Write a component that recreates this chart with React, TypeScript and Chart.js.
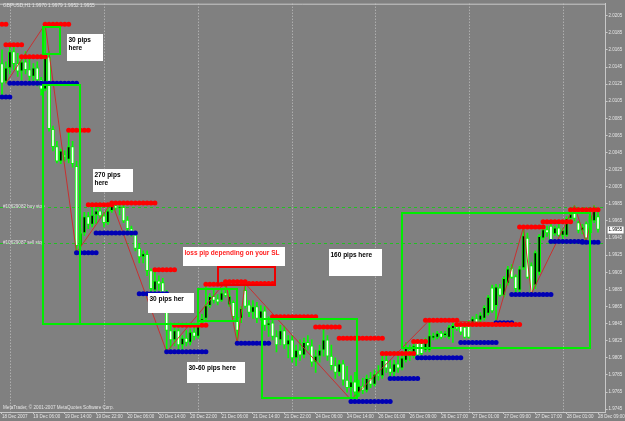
import React, { useEffect, useRef } from 'react';
import { Chart, registerables } from 'chart.js';

Chart.register(...registerables);

// ---------- data ----------
const symbol = 'GBPUSD,H1';

const opens = [
  2.0149, 2.0128, 2.0144, 2.0163, 2.0149, 2.0140, 2.0151, 2.0142, 2.0134, 2.0144,
  2.0130, 2.0119, 2.0157, 2.0072, 2.0052, 2.0035, 2.0042, 2.0037, 2.0052, 2.0029,
  1.9936, 1.9951, 1.9970, 1.9961, 1.9972, 1.9977, 1.9971, 1.9963, 1.9977, 1.9983,
  1.9980, 1.9981, 1.9966, 1.9956, 1.9949, 1.9933, 1.9923, 1.9926, 1.9907, 1.9884,
  1.9895, 1.9893, 1.9880, 1.9837, 1.9826, 1.9837, 1.9820, 1.9828, 1.9823, 1.9835,
  1.9830, 1.9846, 1.9851, 1.9866, 1.9877, 1.9874, 1.9872, 1.9881, 1.9867, 1.9870,
  1.9852, 1.9851, 1.9884, 1.9867, 1.9858, 1.9865, 1.9851, 1.9860, 1.9843, 1.9846,
  1.9830, 1.9826, 1.9837, 1.9820, 1.9826, 1.9805, 1.9814, 1.9808, 1.9823, 1.9819,
  1.9800, 1.9807, 1.9814, 1.9826, 1.9807, 1.9796, 1.9788, 1.9798, 1.9779, 1.9770,
  1.9777, 1.9765, 1.9772, 1.9767, 1.9781, 1.9774, 1.9786, 1.9784, 1.9802, 1.9793,
  1.9788, 1.9798, 1.9793, 1.9802, 1.9814, 1.9807, 1.9823, 1.9822, 1.9814, 1.9814,
  1.9828, 1.9829, 1.9834, 1.9831, 1.9829, 1.9839, 1.9841, 1.9843, 1.9841, 1.9845,
  1.9845, 1.9851, 1.9849, 1.9851, 1.9857, 1.9887, 1.9866, 1.9887, 1.9878, 1.9892,
  1.9910, 1.9900, 1.9884, 1.9910, 1.9945, 1.9913, 1.9890, 1.9905, 1.9945, 1.9955,
  1.9959, 1.9950, 1.9957, 1.9948, 1.9948, 1.9968, 1.9980, 1.9963, 1.9954, 1.9962,
  1.9951, 1.9965, 1.9970,
];
const highs = [
  2.0165, 2.0151, 2.0171, 2.0168, 2.0161, 2.0157, 2.0163, 2.0154, 2.0149, 2.0151,
  2.0133, 2.0195, 2.0163, 2.0076, 2.0058, 2.0049, 2.0047, 2.0071, 2.0058, 2.0035,
  1.9956, 1.9975, 1.9975, 1.9984, 1.9981, 1.9986, 1.9975, 1.9981, 1.9987, 1.9987,
  1.9985, 1.9985, 1.9970, 1.9959, 1.9951, 1.9938, 1.9930, 1.9930, 1.9909, 1.9908,
  1.9901, 1.9898, 1.9884, 1.9846, 1.9843, 1.9839, 1.9831, 1.9837, 1.9839, 1.9843,
  1.9851, 1.9856, 1.9891, 1.9880, 1.9884, 1.9879, 1.9886, 1.9894, 1.9884, 1.9872,
  1.9856, 1.9865, 1.9892, 1.9872, 1.9872, 1.9870, 1.9866, 1.9865, 1.9853, 1.9851,
  1.9837, 1.9843, 1.9842, 1.9831, 1.9831, 1.9820, 1.9826, 1.9828, 1.9831, 1.9826,
  1.9814, 1.9820, 1.9841, 1.9831, 1.9820, 1.9805, 1.9802, 1.9802, 1.9795, 1.9784,
  1.9788, 1.9779, 1.9781, 1.9785, 1.9788, 1.9791, 1.9796, 1.9810, 1.9808, 1.9802,
  1.9802, 1.9808, 1.9812, 1.9823, 1.9820, 1.9822, 1.9826, 1.9824, 1.9828, 1.9849,
  1.9834, 1.9836, 1.9836, 1.9836, 1.9843, 1.9846, 1.9844, 1.9846, 1.9844, 1.9849,
  1.9853, 1.9856, 1.9858, 1.9866, 1.9878, 1.9890, 1.9891, 1.9891, 1.9900, 1.9912,
  1.9914, 1.9902, 1.9912, 1.9958, 1.9951, 1.9916, 1.9930, 1.9949, 1.9958, 1.9959,
  1.9963, 1.9959, 1.9961, 1.9956, 1.9970, 1.9976, 1.9983, 1.9965, 1.9961, 1.9964,
  1.9973, 1.9983, 1.9979,
];
const lows = [
  2.0110, 2.0126, 2.0137, 2.0142, 2.0134, 2.0130, 2.0137, 2.0128, 2.0126, 2.0123,
  2.0112, 2.0117, 2.0070, 2.0047, 2.0033, 2.0032, 2.0035, 2.0033, 2.0028, 1.9928,
  1.9930, 1.9948, 1.9956, 1.9958, 1.9962, 1.9968, 1.9958, 1.9961, 1.9975, 1.9978,
  1.9972, 1.9963, 1.9954, 1.9947, 1.9930, 1.9916, 1.9916, 1.9901, 1.9881, 1.9879,
  1.9884, 1.9877, 1.9812, 1.9816, 1.9819, 1.9814, 1.9812, 1.9819, 1.9820, 1.9826,
  1.9828, 1.9842, 1.9849, 1.9864, 1.9869, 1.9867, 1.9871, 1.9876, 1.9865, 1.9851,
  1.9822, 1.9846, 1.9863, 1.9853, 1.9851, 1.9846, 1.9849, 1.9837, 1.9830, 1.9826,
  1.9812, 1.9820, 1.9816, 1.9805, 1.9800, 1.9796, 1.9802, 1.9805, 1.9814, 1.9795,
  1.9788, 1.9800, 1.9807, 1.9802, 1.9791, 1.9781, 1.9784, 1.9773, 1.9765, 1.9756,
  1.9758, 1.9760, 1.9763, 1.9765, 1.9770, 1.9772, 1.9779, 1.9781, 1.9788, 1.9781,
  1.9784, 1.9788, 1.9791, 1.9800, 1.9802, 1.9805, 1.9807, 1.9808, 1.9812, 1.9812,
  1.9826, 1.9827, 1.9827, 1.9829, 1.9827, 1.9823, 1.9837, 1.9832, 1.9828, 1.9828,
  1.9843, 1.9845, 1.9846, 1.9849, 1.9855, 1.9858, 1.9846, 1.9877, 1.9876, 1.9890,
  1.9898, 1.9879, 1.9881, 1.9908, 1.9898, 1.9880, 1.9886, 1.9902, 1.9943, 1.9947,
  1.9941, 1.9948, 1.9947, 1.9944, 1.9947, 1.9965, 1.9965, 1.9951, 1.9950, 1.9940,
  1.9949, 1.9963, 1.9952,
];
const closes = [
  2.0126, 2.0144, 2.0163, 2.0149, 2.0140, 2.0151, 2.0142, 2.0134, 2.0144, 2.0130,
  2.0119, 2.0157, 2.0073, 2.0052, 2.0035, 2.0047, 2.0040, 2.0052, 2.0032, 1.9936,
  1.9951, 1.9970, 1.9961, 1.9972, 1.9977, 1.9971, 1.9963, 1.9977, 1.9983, 1.9980,
  1.9981, 1.9965, 1.9956, 1.9950, 1.9933, 1.9923, 1.9927, 1.9907, 1.9886, 1.9895,
  1.9891, 1.9880, 1.9837, 1.9826, 1.9837, 1.9820, 1.9828, 1.9823, 1.9835, 1.9830,
  1.9846, 1.9851, 1.9866, 1.9877, 1.9872, 1.9870, 1.9881, 1.9878, 1.9877, 1.9853,
  1.9837, 1.9863, 1.9865, 1.9858, 1.9865, 1.9851, 1.9860, 1.9843, 1.9846, 1.9830,
  1.9820, 1.9837, 1.9820, 1.9826, 1.9805, 1.9814, 1.9808, 1.9823, 1.9819, 1.9800,
  1.9807, 1.9814, 1.9826, 1.9807, 1.9796, 1.9788, 1.9798, 1.9779, 1.9770, 1.9777,
  1.9765, 1.9772, 1.9767, 1.9781, 1.9774, 1.9786, 1.9784, 1.9802, 1.9793, 1.9788,
  1.9798, 1.9793, 1.9805, 1.9817, 1.9807, 1.9819, 1.9808, 1.9810, 1.9826, 1.9831,
  1.9831, 1.9834, 1.9829, 1.9834, 1.9841, 1.9843, 1.9839, 1.9835, 1.9829, 1.9829,
  1.9851, 1.9846, 1.9855, 1.9864, 1.9876, 1.9860, 1.9888, 1.9878, 1.9898, 1.9909,
  1.9899, 1.9886, 1.9909, 1.9948, 1.9899, 1.9881, 1.9928, 1.9947, 1.9955, 1.9951,
  1.9942, 1.9957, 1.9948, 1.9954, 1.9968, 1.9973, 1.9968, 1.9954, 1.9958, 1.9945,
  1.9971, 1.9979, 1.9955,
];

const timeTickBars = [0, 8, 16, 24, 32, 40, 48, 56, 64, 72, 80, 88, 96, 104, 112, 120, 128, 136, 144, 152];
const timeLabels = [
  '18 Dec 2007', '19 Dec 06:00', '19 Dec 14:00', '19 Dec 22:00', '20 Dec 06:00',
  '20 Dec 14:00', '20 Dec 22:00', '21 Dec 06:00', '21 Dec 14:00', '21 Dec 22:00',
  '24 Dec 06:00', '24 Dec 14:00', '26 Dec 01:00', '26 Dec 09:00', '26 Dec 17:00',
  '27 Dec 01:00', '27 Dec 09:00', '27 Dec 17:00', '28 Dec 01:00', '28 Dec 09:00',
];
const dayBreakBars = [2, 26, 50, 74, 95, 119, 143];
const priceTicks = [
  2.0205, 2.0185, 2.0165, 2.0145, 2.0125, 2.0105, 2.0085, 2.0065, 2.0045, 2.0025,
  2.0005, 1.9985, 1.9965, 1.9945, 1.9925, 1.9905, 1.9885, 1.9865, 1.9845, 1.9825,
  1.9805, 1.9785, 1.9765, 1.9745,
];

// fractal levels: [first bar, last bar, price]
const resistanceLevels = [
  [0, 1, 2.0195], [1, 5, 2.0171], [5, 11, 2.0157], [11, 17, 2.0195], [17, 22, 2.0071],
  [22, 28, 1.9984], [28, 39, 1.9986], [39, 44, 1.9908], [44, 52, 1.9843], [52, 57, 1.9891],
  [57, 62, 1.9894], [62, 69, 1.9892], [69, 80, 1.9853], [80, 86, 1.9841], [86, 97, 1.9828],
  [97, 105, 1.9810], [105, 108, 1.9824], [108, 116, 1.9849], [116, 132, 1.9844],
  [132, 138, 1.9958], [138, 145, 1.9964], [145, 152, 1.9978],
];
const supportLevels = [
  [0, 2, 2.0110], [2, 19, 2.0126], [19, 24, 1.9928], [24, 34, 1.9951], [35, 42, 1.9880],
  [42, 52, 1.9812], [60, 68, 1.9822], [89, 99, 1.9754], [99, 106, 1.9781], [106, 117, 1.9805],
  [117, 126, 1.9823], [126, 130, 1.9846], [130, 140, 1.9879], [140, 148, 1.9941], [148, 152, 1.9940],
];

const zigzagBars = [1, 11, 19, 28, 42, 57, 60, 62, 89, 109, 126, 133, 135, 146, 149, 151];
const zigzagPrices = [2.0126, 2.0195, 1.9928, 1.9987, 1.9812, 1.9894, 1.9822, 1.9892, 1.9756, 1.9849, 1.9846, 1.9958, 1.9880, 1.9983, 1.9940, 1.9983];

const buyStopPrice = 1.9981;
const sellStopPrice = 1.9939;
const buyStopLabel = '#10629082 buy stop';
const sellStopLabel = '#10629087 sell stop';
const copyrightText = 'MetaTrader, \u00a9 2001-2007 MetaQuotes Software Corp.';

// drawn objects anchored in chart coordinates: [bar from, bar to, price top, price bottom]
const greenBoxes = [
  [10.43, 14.76, 2.0192, 2.0161],
  [10.43, 19.85, 2.0124, 1.9845],
  [50.1, 60.05, 1.9886, 1.9849],
  [66.4, 90.6, 1.9851, 1.9759],
  [102.0, 149.9, 1.9974, 1.9816],
];
const greenSegments = [[19.85, 50.4, 1.9845]];
const redBoxes = [[55.2, 69.7, 1.9911, 1.9890]];
const notes = [
  { lines: ['30 pips', 'here'], box: [16.5, 25.7, 2.0183, 2.0152], red: false },
  { lines: ['270 pips', 'here'], box: [23.2, 33.3, 2.0026, 1.9999], red: false },
  { lines: ['loss pip depending on your SL'], box: [46.1, 72.0, 1.9934, 1.9912], red: true },
  { lines: ['30 pips her'], box: [37.2, 48.9, 1.9881, 1.9858], red: false },
  { lines: ['160 pips here'], box: [83.5, 97.0, 1.9932, 1.9900], red: false },
  { lines: ['30-60 pips here'], box: [47.1, 61.8, 1.9800, 1.9776], red: false },
];

// ---------- styles ----------
const BG = '#808080';
const FG = '#e4e4e4';
const AXIS = '#c8c8c8';
const LIME = '#00ff00';
const FONT = '"Liberation Sans", Arial, sans-serif';

const expandLevels = (levels: number[][]) => {
  const pts: { x: number; y: number }[] = [];
  levels.forEach(([s, e, p]) => {
    for (let b = s; b <= e; b++) pts.push({ x: b, y: p });
  });
  return pts;
};

const decorPlugin = {
  id: 'mt4decor',
  beforeDraw(chart: any) {
    const { ctx, chartArea: ca, scales } = chart;
    const xs = scales.x;
    const ys = scales.y;
    ctx.save();
    ctx.fillStyle = BG;
    ctx.fillRect(0, 0, chart.width, chart.height);
    // frame top
    ctx.strokeStyle = AXIS;
    ctx.lineWidth = 1;
    ctx.beginPath();
    ctx.moveTo(ca.left, ca.top + 0.5);
    ctx.lineTo(ca.right, ca.top + 0.5);
    ctx.stroke();
    // day separators
    ctx.strokeStyle = '#c4c4c4';
    ctx.setLineDash([1, 2]);
    dayBreakBars.forEach((b) => {
      const px = Math.round(xs.getPixelForValue(b)) + 0.5;
      ctx.beginPath();
      ctx.moveTo(px, ca.top);
      ctx.lineTo(px, ca.bottom);
      ctx.stroke();
    });
    // pending order lines
    ctx.strokeStyle = '#22c022';
    ctx.setLineDash([3, 3]);
    [buyStopPrice, sellStopPrice].forEach((p) => {
      const py = Math.round(ys.getPixelForValue(p)) + 0.5;
      ctx.beginPath();
      ctx.moveTo(ca.left, py);
      ctx.lineTo(ca.right, py);
      ctx.stroke();
    });
    ctx.setLineDash([]);
    ctx.fillStyle = FG;
    ctx.font = `4.6px ${FONT}`;
    ctx.textBaseline = 'bottom';
    ctx.textAlign = 'left';
    ctx.fillText(buyStopLabel, 3, ys.getPixelForValue(buyStopPrice) + 1.5);
    ctx.fillText(sellStopLabel, 3, ys.getPixelForValue(sellStopPrice) + 1.5);
    // header
    const last = closes.length - 1;
    ctx.font = `4.8px ${FONT}`;
    ctx.textBaseline = 'top';
    ctx.fillText(
      `${symbol} ${opens[last].toFixed(4)} ${highs[last].toFixed(4)} ${lows[last].toFixed(4)} ${closes[last].toFixed(4)}`,
      3, 3,
    );
    // copyright
    ctx.font = `4.6px ${FONT}`;
    ctx.textBaseline = 'middle';
    ctx.fillText(copyrightText, 3, 408);
    ctx.restore();
  },
  afterDatasetsDraw(chart: any) {
    const { ctx, chartArea: ca, scales } = chart;
    const xs = scales.x;
    const ys = scales.y;
    const rect = (b: number[]) => {
      const x0 = xs.getPixelForValue(b[0]);
      const x1 = xs.getPixelForValue(b[1]);
      const y0 = ys.getPixelForValue(b[2]);
      const y1 = ys.getPixelForValue(b[3]);
      return [Math.round(x0), Math.round(y0), Math.round(x1 - x0), Math.round(y1 - y0)];
    };
    ctx.save();
    ctx.beginPath();
    ctx.rect(ca.left, ca.top, ca.right - ca.left, ca.bottom - ca.top);
    ctx.clip();
    ctx.lineWidth = 2;
    ctx.strokeStyle = '#00ee00';
    greenBoxes.forEach((b) => {
      const [x, y, w, h] = rect(b);
      ctx.strokeRect(x, y, w, h);
    });
    greenSegments.forEach(([b0, b1, p]) => {
      const py = Math.round(ys.getPixelForValue(p));
      ctx.beginPath();
      ctx.moveTo(Math.round(xs.getPixelForValue(b0)), py);
      ctx.lineTo(Math.round(xs.getPixelForValue(b1)), py);
      ctx.stroke();
    });
    ctx.strokeStyle = '#ee0000';
    redBoxes.forEach((b) => {
      const [x, y, w, h] = rect(b);
      ctx.strokeRect(x, y, w, h);
    });
    // notes
    notes.forEach((n) => {
      const [x, y, w, h] = rect(n.box);
      ctx.fillStyle = '#ffffff';
      ctx.fillRect(x, y, w, h);
      ctx.fillStyle = n.red ? '#ff2020' : '#000000';
      ctx.font = `bold 6.5px ${FONT}`;
      ctx.textBaseline = 'top';
      ctx.textAlign = 'left';
      n.lines.forEach((t, i) => ctx.fillText(t, x + 1.5, y + 2.5 + i * 8.5));
    });
    ctx.restore();
    // current price label
    const lastClose = closes[closes.length - 1];
    const py = ys.getPixelForValue(lastClose);
    ctx.save();
    ctx.fillStyle = '#ffffff';
    ctx.fillRect(ca.right + 2, Math.round(py) - 3.5, 16, 7);
    ctx.fillStyle = '#000000';
    ctx.font = `4.5px ${FONT}`;
    ctx.textBaseline = 'middle';
    ctx.textAlign = 'left';
    ctx.fillText(lastClose.toFixed(4), ca.right + 3, Math.round(py));
    ctx.restore();
  },
};

export default function App() {
  const ref = useRef<HTMLCanvasElement | null>(null);
  useEffect(() => {
    if (!ref.current) return;
    const idx = closes.map((_, i) => i);
    const chart = new Chart(ref.current, {
      type: 'bar',
      data: {
        datasets: [
          {
            type: 'scatter',
            label: 'resistance',
            data: expandLevels(resistanceLevels),
            pointRadius: 2.5,
            pointBorderWidth: 0,
            pointBackgroundColor: '#ff0000',
            order: 1,
          } as any,
          {
            type: 'scatter',
            label: 'support',
            data: expandLevels(supportLevels),
            pointRadius: 2.5,
            pointBorderWidth: 0,
            pointBackgroundColor: '#0000b4',
            order: 1,
          } as any,
          {
            type: 'line',
            label: 'zigzag',
            data: zigzagBars.map((b, i) => ({ x: b, y: zigzagPrices[i] })),
            borderColor: '#c83030',
            borderWidth: 1,
            pointRadius: 0,
            tension: 0,
            order: 2,
          } as any,
          {
            type: 'bar',
            label: 'body',
            data: idx.map((i) => ({ x: i, y: [opens[i], closes[i]] })),
            backgroundColor: idx.map((i) => (closes[i] >= opens[i] ? '#000000' : '#ffffff')),
            borderColor: LIME,
            borderWidth: 1,
            borderSkipped: false,
            barThickness: 3,
            grouped: false,
            order: 3,
          } as any,
          {
            type: 'bar',
            label: 'wick',
            data: idx.map((i) => ({ x: i, y: [lows[i], highs[i]] })),
            backgroundColor: LIME,
            borderWidth: 0,
            barThickness: 1,
            grouped: false,
            order: 4,
          } as any,
        ],
      },
      options: {
        responsive: false,
        devicePixelRatio: 1,
        animation: false,
        events: [],
        layout: { padding: { top: 2, left: 0, right: 0, bottom: 0 }, autoPadding: false },
        plugins: { legend: { display: false }, tooltip: { enabled: false } },
        scales: {
          x: {
            type: 'linear',
            position: 'bottom',
            min: -0.51,
            max: 153.94,
            offset: false,
            afterBuildTicks: (s: any) => {
              s.ticks = timeTickBars.map((v) => ({ value: v }));
            },
            afterFit: (s: any) => {
              s.height = 9;
            },
            ticks: {
              autoSkip: false,
              maxRotation: 0,
              minRotation: 0,
              align: 'start',
              padding: 0,
              color: FG,
              font: { size: 4.5, family: FONT },
              callback: (_v: any, i: number) => timeLabels[i],
            },
            grid: { drawOnChartArea: false, drawTicks: true, tickLength: 2, color: AXIS, offset: false },
            border: { display: true, color: AXIS },
          },
          y: {
            type: 'linear',
            position: 'right',
            min: 1.97417,
            max: 2.0219,
            afterBuildTicks: (s: any) => {
              s.ticks = priceTicks.map((v) => ({ value: v }));
            },
            afterFit: (s: any) => {
              s.width = 18;
            },
            ticks: {
              autoSkip: false,
              padding: 1,
              color: FG,
              font: { size: 4.5, family: FONT },
              callback: (v: any) => Number(v).toFixed(4),
            },
            grid: { drawOnChartArea: false, drawTicks: true, tickLength: 2, color: AXIS },
            border: { display: true, color: AXIS },
          },
        },
      } as any,
      plugins: [decorPlugin],
    });
    return () => chart.destroy();
  }, []);
  return (
    <div style={{ position: 'fixed', left: 0, top: 0, width: 625, height: 421 }}>
      <canvas ref={ref} width={625} height={421} style={{ display: 'block' }} />
    </div>
  );
}
